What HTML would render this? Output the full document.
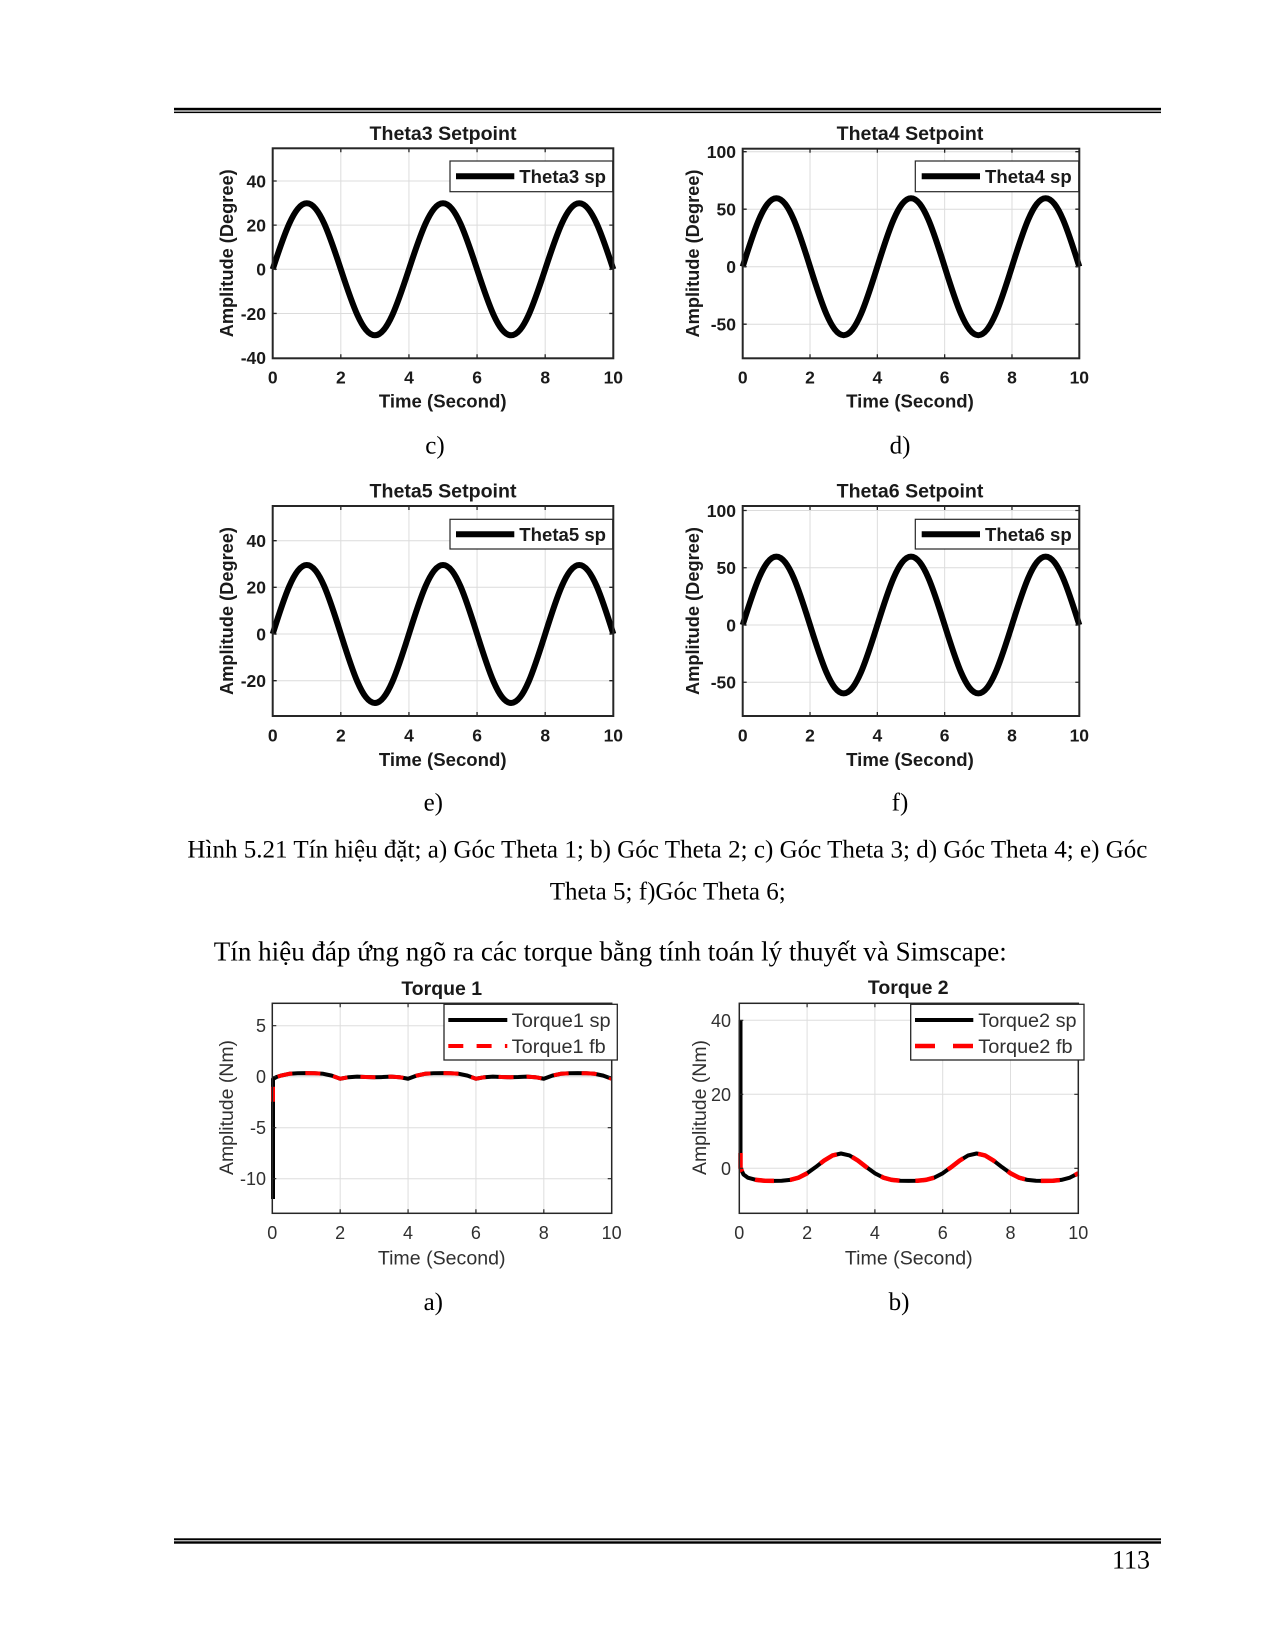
<!DOCTYPE html>
<html>
<head>
<meta charset="utf-8">
<style>
html,body{margin:0;padding:0;background:#fff;}
svg{display:block;}
.sb{font-family:"Liberation Sans",Arial,sans-serif;font-weight:bold;fill:#1a1a1a;}
.sr{font-family:"Liberation Sans",Arial,sans-serif;font-weight:normal;fill:#303030;}
.tm{font-family:"Liberation Serif","Times New Roman",serif;fill:#000;}
</style>
</head>
<body>
<svg width="1275" height="1650" viewBox="0 0 1275 1650" xmlns="http://www.w3.org/2000/svg">
<rect x="0" y="0" width="1275" height="1650" fill="#fff"/>

<!-- Header lines -->
<rect x="174" y="107.8" width="987" height="2.6" fill="#000"/>
<rect x="174" y="111.6" width="987" height="1.5" fill="#000"/>

<!-- ================= Plot c: Theta3 ================= -->
<g>
<path d="M340.82,148.3V358.3M408.94,148.3V358.3M477.06,148.3V358.3M545.18,148.3V358.3M272.7,181H613.3M272.7,225.15H613.3M272.7,269.3H613.3M272.7,313.45H613.3" stroke="#dcdcdc" stroke-width="1" fill="none"/>
<path transform="translate(272.7,269.3) scale(34.06,-66)" vector-effect="non-scaling-stroke" stroke="#000" stroke-width="6" fill="none" stroke-linejoin="round" d="M0,0 c.3261,.5123 .6381,1 1,1 c.3619,0 .6739,-.4877 1,-1 c.3261,-.5123 .6381,-1 1,-1 c.3619,0 .6739,.4877 1,1 c.3261,.5123 .6381,1 1,1 c.3619,0 .6739,-.4877 1,-1 c.3261,-.5123 .6381,-1 1,-1 c.3619,0 .6739,.4877 1,1 c.3261,.5123 .6381,1 1,1 c.3619,0 .6739,-.4877 1,-1"/>
<path d="M340.82,148.3v4M408.94,148.3v4M477.06,148.3v4M545.18,148.3v4M340.82,358.3v-4M408.94,358.3v-4M477.06,358.3v-4M545.18,358.3v-4M272.7,181h4M272.7,225.15h4M272.7,269.3h4M272.7,313.45h4M613.3,181h-4M613.3,225.15h-4M613.3,269.3h-4M613.3,313.45h-4" stroke="#262626" stroke-width="1.3" fill="none"/>
<rect x="272.7" y="148.3" width="340.6" height="210" fill="none" stroke="#262626" stroke-width="2"/>
<rect x="450" y="161" width="162.7" height="30.7" fill="#fff" stroke="#262626" stroke-width="1.2"/>
<line x1="456" y1="176.3" x2="514.3" y2="176.3" stroke="#000" stroke-width="6"/>
<text class="sb" x="519.3" y="183" font-size="18.5" textLength="86.7" lengthAdjust="spacingAndGlyphs">Theta3 sp</text>
<text class="sb" x="443" y="140" font-size="19.5" text-anchor="middle" textLength="147" lengthAdjust="spacingAndGlyphs">Theta3 Setpoint</text>
<g class="sb" font-size="17.5" text-anchor="end">
<text x="266" y="187.3">40</text>
<text x="266" y="231.5">20</text>
<text x="266" y="275.6">0</text>
<text x="266" y="319.8">-20</text>
<text x="266" y="363.9">-40</text>
</g>
<g class="sb" font-size="17.5" text-anchor="middle">
<text x="272.7" y="383.6">0</text>
<text x="340.82" y="383.6">2</text>
<text x="408.94" y="383.6">4</text>
<text x="477.06" y="383.6">6</text>
<text x="545.18" y="383.6">8</text>
<text x="613.3" y="383.6">10</text>
</g>
<text class="sb" x="442.7" y="407.4" font-size="18.5" text-anchor="middle" textLength="127.7" lengthAdjust="spacingAndGlyphs">Time (Second)</text>
<text class="sb" transform="translate(233,253.3) rotate(-90)" x="0" y="0" font-size="18.5" text-anchor="middle" textLength="168" lengthAdjust="spacingAndGlyphs">Amplitude (Degree)</text>
</g>

<!-- ================= Plot d: Theta4 ================= -->
<g>
<path d="M810.02,148.7V358.3M877.34,148.7V358.3M944.66,148.7V358.3M1011.98,148.7V358.3M742.7,151.7H1079.3M742.7,209.2H1079.3M742.7,266.7H1079.3M742.7,324.2H1079.3" stroke="#dcdcdc" stroke-width="1" fill="none"/>
<path transform="translate(742.7,266.7) scale(33.66,-68.5)" vector-effect="non-scaling-stroke" stroke="#000" stroke-width="6" fill="none" stroke-linejoin="round" d="M0,0 c.3261,.5123 .6381,1 1,1 c.3619,0 .6739,-.4877 1,-1 c.3261,-.5123 .6381,-1 1,-1 c.3619,0 .6739,.4877 1,1 c.3261,.5123 .6381,1 1,1 c.3619,0 .6739,-.4877 1,-1 c.3261,-.5123 .6381,-1 1,-1 c.3619,0 .6739,.4877 1,1 c.3261,.5123 .6381,1 1,1 c.3619,0 .6739,-.4877 1,-1"/>
<path d="M810.02,148.7v4M877.34,148.7v4M944.66,148.7v4M1011.98,148.7v4M810.02,358.3v-4M877.34,358.3v-4M944.66,358.3v-4M1011.98,358.3v-4M742.7,151.7h4M742.7,209.2h4M742.7,266.7h4M742.7,324.2h4M1079.3,151.7h-4M1079.3,209.2h-4M1079.3,266.7h-4M1079.3,324.2h-4" stroke="#262626" stroke-width="1.3" fill="none"/>
<rect x="742.7" y="148.7" width="336.6" height="209.6" fill="none" stroke="#262626" stroke-width="2"/>
<rect x="915.3" y="161" width="163.4" height="30.7" fill="#fff" stroke="#262626" stroke-width="1.2"/>
<line x1="921.7" y1="176.3" x2="980" y2="176.3" stroke="#000" stroke-width="6"/>
<text class="sb" x="985" y="183" font-size="18.5" textLength="86.7" lengthAdjust="spacingAndGlyphs">Theta4 sp</text>
<text class="sb" x="910" y="140" font-size="19.5" text-anchor="middle" textLength="146.7" lengthAdjust="spacingAndGlyphs">Theta4 Setpoint</text>
<g class="sb" font-size="17.5" text-anchor="end">
<text x="736" y="158">100</text>
<text x="736" y="215.5">50</text>
<text x="736" y="273">0</text>
<text x="736" y="330.5">-50</text>
</g>
<g class="sb" font-size="17.5" text-anchor="middle">
<text x="742.7" y="383.6">0</text>
<text x="810.02" y="383.6">2</text>
<text x="877.34" y="383.6">4</text>
<text x="944.66" y="383.6">6</text>
<text x="1011.98" y="383.6">8</text>
<text x="1079.3" y="383.6">10</text>
</g>
<text class="sb" x="910" y="407.4" font-size="18.5" text-anchor="middle" textLength="127.7" lengthAdjust="spacingAndGlyphs">Time (Second)</text>
<text class="sb" transform="translate(699,253.5) rotate(-90)" x="0" y="0" font-size="18.5" text-anchor="middle" textLength="168" lengthAdjust="spacingAndGlyphs">Amplitude (Degree)</text>
</g>

<text class="tm" x="435" y="453.3" font-size="25" text-anchor="middle">c)</text>
<text class="tm" x="900" y="453.3" font-size="25" text-anchor="middle">d)</text>

<!-- ================= Plot e: Theta5 ================= -->
<g>
<path d="M340.82,506V716M408.94,506V716M477.06,506V716M545.18,506V716M272.7,540.7H613.3M272.7,587.3H613.3M272.7,634H613.3M272.7,680.7H613.3" stroke="#dcdcdc" stroke-width="1" fill="none"/>
<path transform="translate(272.7,634) scale(34.06,-69)" vector-effect="non-scaling-stroke" stroke="#000" stroke-width="6" fill="none" stroke-linejoin="round" d="M0,0 c.3261,.5123 .6381,1 1,1 c.3619,0 .6739,-.4877 1,-1 c.3261,-.5123 .6381,-1 1,-1 c.3619,0 .6739,.4877 1,1 c.3261,.5123 .6381,1 1,1 c.3619,0 .6739,-.4877 1,-1 c.3261,-.5123 .6381,-1 1,-1 c.3619,0 .6739,.4877 1,1 c.3261,.5123 .6381,1 1,1 c.3619,0 .6739,-.4877 1,-1"/>
<path d="M340.82,506v4M408.94,506v4M477.06,506v4M545.18,506v4M340.82,716v-4M408.94,716v-4M477.06,716v-4M545.18,716v-4M272.7,540.7h4M272.7,587.3h4M272.7,634h4M272.7,680.7h4M613.3,540.7h-4M613.3,587.3h-4M613.3,634h-4M613.3,680.7h-4" stroke="#262626" stroke-width="1.3" fill="none"/>
<rect x="272.7" y="506" width="340.6" height="210" fill="none" stroke="#262626" stroke-width="2"/>
<rect x="450" y="519.3" width="162.7" height="29.7" fill="#fff" stroke="#262626" stroke-width="1.2"/>
<line x1="456" y1="534.2" x2="514.3" y2="534.2" stroke="#000" stroke-width="6"/>
<text class="sb" x="519.3" y="540.8" font-size="18.5" textLength="86.7" lengthAdjust="spacingAndGlyphs">Theta5 sp</text>
<text class="sb" x="443" y="497.7" font-size="19.5" text-anchor="middle" textLength="147" lengthAdjust="spacingAndGlyphs">Theta5 Setpoint</text>
<g class="sb" font-size="17.5" text-anchor="end">
<text x="266" y="547">40</text>
<text x="266" y="593.6">20</text>
<text x="266" y="640.3">0</text>
<text x="266" y="687">-20</text>
</g>
<g class="sb" font-size="17.5" text-anchor="middle">
<text x="272.7" y="741.3">0</text>
<text x="340.82" y="741.3">2</text>
<text x="408.94" y="741.3">4</text>
<text x="477.06" y="741.3">6</text>
<text x="545.18" y="741.3">8</text>
<text x="613.3" y="741.3">10</text>
</g>
<text class="sb" x="442.7" y="766" font-size="18.5" text-anchor="middle" textLength="127.7" lengthAdjust="spacingAndGlyphs">Time (Second)</text>
<text class="sb" transform="translate(233,611) rotate(-90)" x="0" y="0" font-size="18.5" text-anchor="middle" textLength="168" lengthAdjust="spacingAndGlyphs">Amplitude (Degree)</text>
</g>

<!-- ================= Plot f: Theta6 ================= -->
<g>
<path d="M810.02,506V716M877.34,506V716M944.66,506V716M1011.98,506V716M742.7,510.5H1079.3M742.7,567.75H1079.3M742.7,625H1079.3M742.7,682.25H1079.3" stroke="#dcdcdc" stroke-width="1" fill="none"/>
<path transform="translate(742.7,625) scale(33.66,-68.4)" vector-effect="non-scaling-stroke" stroke="#000" stroke-width="6" fill="none" stroke-linejoin="round" d="M0,0 c.3261,.5123 .6381,1 1,1 c.3619,0 .6739,-.4877 1,-1 c.3261,-.5123 .6381,-1 1,-1 c.3619,0 .6739,.4877 1,1 c.3261,.5123 .6381,1 1,1 c.3619,0 .6739,-.4877 1,-1 c.3261,-.5123 .6381,-1 1,-1 c.3619,0 .6739,.4877 1,1 c.3261,.5123 .6381,1 1,1 c.3619,0 .6739,-.4877 1,-1"/>
<path d="M810.02,506v4M877.34,506v4M944.66,506v4M1011.98,506v4M810.02,716v-4M877.34,716v-4M944.66,716v-4M1011.98,716v-4M742.7,510.5h4M742.7,567.75h4M742.7,625h4M742.7,682.25h4M1079.3,510.5h-4M1079.3,567.75h-4M1079.3,625h-4M1079.3,682.25h-4" stroke="#262626" stroke-width="1.3" fill="none"/>
<rect x="742.7" y="506" width="336.6" height="210" fill="none" stroke="#262626" stroke-width="2"/>
<rect x="915.3" y="519.3" width="163.4" height="29.7" fill="#fff" stroke="#262626" stroke-width="1.2"/>
<line x1="921.7" y1="534.2" x2="980" y2="534.2" stroke="#000" stroke-width="6"/>
<text class="sb" x="985" y="540.8" font-size="18.5" textLength="86.7" lengthAdjust="spacingAndGlyphs">Theta6 sp</text>
<text class="sb" x="910" y="497.7" font-size="19.5" text-anchor="middle" textLength="146.7" lengthAdjust="spacingAndGlyphs">Theta6 Setpoint</text>
<g class="sb" font-size="17.5" text-anchor="end">
<text x="736" y="516.8">100</text>
<text x="736" y="574">50</text>
<text x="736" y="631.3">0</text>
<text x="736" y="688.5">-50</text>
</g>
<g class="sb" font-size="17.5" text-anchor="middle">
<text x="742.7" y="741.3">0</text>
<text x="810.02" y="741.3">2</text>
<text x="877.34" y="741.3">4</text>
<text x="944.66" y="741.3">6</text>
<text x="1011.98" y="741.3">8</text>
<text x="1079.3" y="741.3">10</text>
</g>
<text class="sb" x="910" y="766" font-size="18.5" text-anchor="middle" textLength="127.7" lengthAdjust="spacingAndGlyphs">Time (Second)</text>
<text class="sb" transform="translate(699,611) rotate(-90)" x="0" y="0" font-size="18.5" text-anchor="middle" textLength="168" lengthAdjust="spacingAndGlyphs">Amplitude (Degree)</text>
</g>

<text class="tm" x="433.3" y="810.5" font-size="25" text-anchor="middle">e)</text>
<text class="tm" x="900" y="810.5" font-size="25" text-anchor="middle">f)</text>

<!-- Caption -->
<text class="tm" x="187.4" y="857.3" font-size="25" textLength="960" lengthAdjust="spacing">Hình 5.21 Tín hiệu đặt; a) Góc Theta 1; b) Góc Theta 2; c) Góc Theta 3; d) Góc Theta 4; e) Góc</text>
<text class="tm" x="549.7" y="899.3" font-size="25" textLength="236" lengthAdjust="spacing">Theta 5; f)Góc Theta 6;</text>
<text class="tm" x="213.8" y="960.3" font-size="27" textLength="793" lengthAdjust="spacing">Tín hiệu đáp ứng ngõ ra các torque bằng tính toán lý thuyết và Simscape:</text>

<!-- ================= Torque 1 ================= -->
<g>
<path d="M340.18,1003.3V1213.3M408.06,1003.3V1213.3M475.94,1003.3V1213.3M543.82,1003.3V1213.3M272.3,1025.7H611.7M272.3,1076.7H611.7M272.3,1127.7H611.7M272.3,1178.7H611.7" stroke="#dedede" stroke-width="1" fill="none"/>
<polyline fill="none" stroke="#000" stroke-width="4" stroke-linejoin="round" points="273,1199 273,1079 276.5,1077 280.79,1075.64 289.27,1073.78 297.76,1073.28 306.24,1073.13 314.73,1073.28 323.21,1073.78 331.70,1075.64 340.18,1078.74 348.67,1077.21 357.15,1076.66 365.64,1077.06 374.12,1077.21 382.61,1077.06 391.09,1076.66 399.58,1077.21 408.06,1078.74 416.55,1075.64 425.03,1073.78 433.52,1073.28 442.0,1073.13 450.49,1073.28 458.97,1073.78 467.46,1075.64 475.94,1078.74 484.43,1077.21 492.91,1076.66 501.40,1077.06 509.88,1077.21 518.37,1077.06 526.85,1076.66 535.34,1077.21 543.82,1078.74 552.31,1075.64 560.79,1073.78 569.28,1073.28 577.76,1073.13 586.25,1073.28 594.73,1073.78 603.22,1075.64 611.7,1078.74"/>
<polyline fill="none" stroke="#ff0000" stroke-width="4" stroke-dasharray="15 13" points="273,1101.7 273,1079 276.5,1077 280.79,1075.64 289.27,1073.78 297.76,1073.28 306.24,1073.13 314.73,1073.28 323.21,1073.78 331.70,1075.64 340.18,1078.74 348.67,1077.21 357.15,1076.66 365.64,1077.06 374.12,1077.21 382.61,1077.06 391.09,1076.66 399.58,1077.21 408.06,1078.74 416.55,1075.64 425.03,1073.78 433.52,1073.28 442.0,1073.13 450.49,1073.28 458.97,1073.78 467.46,1075.64 475.94,1078.74 484.43,1077.21 492.91,1076.66 501.40,1077.06 509.88,1077.21 518.37,1077.06 526.85,1076.66 535.34,1077.21 543.82,1078.74 552.31,1075.64 560.79,1073.78 569.28,1073.28 577.76,1073.13 586.25,1073.28 594.73,1073.78 603.22,1075.64 611.7,1078.74"/>
<path d="M340.18,1003.3v4M408.06,1003.3v4M475.94,1003.3v4M543.82,1003.3v4M340.18,1213.3v-4M408.06,1213.3v-4M475.94,1213.3v-4M543.82,1213.3v-4M272.3,1025.7h4M272.3,1076.7h4M272.3,1127.7h4M272.3,1178.7h4M611.7,1025.7h-4M611.7,1076.7h-4M611.7,1127.7h-4M611.7,1178.7h-4" stroke="#262626" stroke-width="1.2" fill="none"/>
<rect x="272.3" y="1003.3" width="339.4" height="210" fill="none" stroke="#262626" stroke-width="1.5"/>
<rect x="444" y="1004.3" width="173.3" height="55.7" fill="#fff" stroke="#262626" stroke-width="1.3"/>
<line x1="448.3" y1="1020" x2="507.3" y2="1020" stroke="#000" stroke-width="4"/>
<line x1="448.3" y1="1046" x2="507.3" y2="1046" stroke="#ff0000" stroke-width="4" stroke-dasharray="15 13.3"/>
<text class="sr" x="511.7" y="1027" font-size="19.5" textLength="99" lengthAdjust="spacingAndGlyphs">Torque1 sp</text>
<text class="sr" x="511.7" y="1053" font-size="19.5" textLength="94" lengthAdjust="spacingAndGlyphs">Torque1 fb</text>
<text class="sb" x="441.7" y="995" font-size="19" text-anchor="middle" textLength="80.7" lengthAdjust="spacingAndGlyphs">Torque 1</text>
<g class="sr" font-size="18" text-anchor="end">
<text x="266" y="1032.2">5</text>
<text x="266" y="1083.2">0</text>
<text x="266" y="1134.2">-5</text>
<text x="266" y="1185.2">-10</text>
</g>
<g class="sr" font-size="18" text-anchor="middle">
<text x="272.3" y="1239.2">0</text>
<text x="340.18" y="1239.2">2</text>
<text x="408.06" y="1239.2">4</text>
<text x="475.94" y="1239.2">6</text>
<text x="543.82" y="1239.2">8</text>
<text x="611.7" y="1239.2">10</text>
</g>
<text class="sr" x="441.7" y="1264.3" font-size="19.5" text-anchor="middle" textLength="127.7" lengthAdjust="spacingAndGlyphs">Time (Second)</text>
<text class="sr" transform="translate(233,1107.5) rotate(-90)" x="0" y="0" font-size="19.4" text-anchor="middle" textLength="135" lengthAdjust="spacingAndGlyphs">Amplitude (Nm)</text>
</g>

<!-- ================= Torque 2 ================= -->
<g>
<path d="M807.1,1003.3V1213.3M874.9,1003.3V1213.3M942.7,1003.3V1213.3M1010.5,1003.3V1213.3M739.3,1020.3H1078.3M739.3,1094.3H1078.3M739.3,1168.3H1078.3" stroke="#dedede" stroke-width="1" fill="none"/>
<polyline fill="none" stroke="#000" stroke-width="4" stroke-linejoin="round" points="740.5,1020 740.5,1168 743.5,1174.5 747.78,1177.64 756.25,1179.92 764.73,1180.74 773.2,1180.88 781.68,1180.74 790.15,1179.92 798.63,1177.64 807.1,1173.30 815.58,1167.16 824.05,1160.56 832.53,1155.44 841.0,1153.5 849.48,1155.44 857.95,1160.56 866.43,1167.16 874.9,1173.30 883.38,1177.64 891.85,1179.92 900.33,1180.74 908.8,1180.88 917.28,1180.74 925.75,1179.92 934.23,1177.64 942.7,1173.30 951.18,1167.16 959.65,1160.56 968.13,1155.44 976.6,1153.5 985.08,1155.44 993.55,1160.56 1002.03,1167.16 1010.5,1173.30 1018.98,1177.64 1027.45,1179.92 1035.93,1180.74 1044.4,1180.88 1052.88,1180.74 1061.35,1179.92 1069.83,1177.64 1078.3,1173.30"/>
<polyline fill="none" stroke="#ff0000" stroke-width="4.5" stroke-dasharray="19 16" points="740.5,1153 740.5,1168 743.5,1174.5 747.78,1177.64 756.25,1179.92 764.73,1180.74 773.2,1180.88 781.68,1180.74 790.15,1179.92 798.63,1177.64 807.1,1173.30 815.58,1167.16 824.05,1160.56 832.53,1155.44 841.0,1153.5 849.48,1155.44 857.95,1160.56 866.43,1167.16 874.9,1173.30 883.38,1177.64 891.85,1179.92 900.33,1180.74 908.8,1180.88 917.28,1180.74 925.75,1179.92 934.23,1177.64 942.7,1173.30 951.18,1167.16 959.65,1160.56 968.13,1155.44 976.6,1153.5 985.08,1155.44 993.55,1160.56 1002.03,1167.16 1010.5,1173.30 1018.98,1177.64 1027.45,1179.92 1035.93,1180.74 1044.4,1180.88 1052.88,1180.74 1061.35,1179.92 1069.83,1177.64 1078.3,1173.30"/>
<path d="M807.1,1003.3v4M874.9,1003.3v4M942.7,1003.3v4M1010.5,1003.3v4M807.1,1213.3v-4M874.9,1213.3v-4M942.7,1213.3v-4M1010.5,1213.3v-4M739.3,1020.3h4M739.3,1094.3h4M739.3,1168.3h4M1078.3,1020.3h-4M1078.3,1094.3h-4M1078.3,1168.3h-4" stroke="#262626" stroke-width="1.2" fill="none"/>
<rect x="739.3" y="1003.3" width="339" height="210" fill="none" stroke="#262626" stroke-width="1.5"/>
<rect x="910.7" y="1004.3" width="173.3" height="55.7" fill="#fff" stroke="#262626" stroke-width="1.3"/>
<line x1="915" y1="1020" x2="973.3" y2="1020" stroke="#000" stroke-width="4"/>
<line x1="915" y1="1046" x2="973.3" y2="1046" stroke="#ff0000" stroke-width="4.5" stroke-dasharray="20 18"/>
<text class="sr" x="978.3" y="1027" font-size="19.5" textLength="98.3" lengthAdjust="spacingAndGlyphs">Torque2 sp</text>
<text class="sr" x="978.3" y="1053" font-size="19.5" textLength="94.3" lengthAdjust="spacingAndGlyphs">Torque2 fb</text>
<text class="sb" x="908.3" y="994" font-size="19" text-anchor="middle" textLength="80.7" lengthAdjust="spacingAndGlyphs">Torque 2</text>
<g class="sr" font-size="18" text-anchor="end">
<text x="731" y="1026.8">40</text>
<text x="731" y="1100.8">20</text>
<text x="731" y="1174.8">0</text>
</g>
<g class="sr" font-size="18" text-anchor="middle">
<text x="739.3" y="1239.2">0</text>
<text x="807.1" y="1239.2">2</text>
<text x="874.9" y="1239.2">4</text>
<text x="942.7" y="1239.2">6</text>
<text x="1010.5" y="1239.2">8</text>
<text x="1078.3" y="1239.2">10</text>
</g>
<text class="sr" x="908.8" y="1264.3" font-size="19.5" text-anchor="middle" textLength="127.7" lengthAdjust="spacingAndGlyphs">Time (Second)</text>
<text class="sr" transform="translate(706,1107.5) rotate(-90)" x="0" y="0" font-size="19.4" text-anchor="middle" textLength="135" lengthAdjust="spacingAndGlyphs">Amplitude (Nm)</text>
</g>

<text class="tm" x="433.3" y="1310" font-size="25" text-anchor="middle">a)</text>
<text class="tm" x="899" y="1310" font-size="25" text-anchor="middle">b)</text>

<!-- Footer -->
<rect x="174" y="1538.3" width="987" height="2" fill="#000"/>
<rect x="174" y="1541.3" width="987" height="2.4" fill="#000"/>
<text class="tm" x="1150" y="1568.3" font-size="26" text-anchor="end">113</text>
</svg>
</body>
</html>
